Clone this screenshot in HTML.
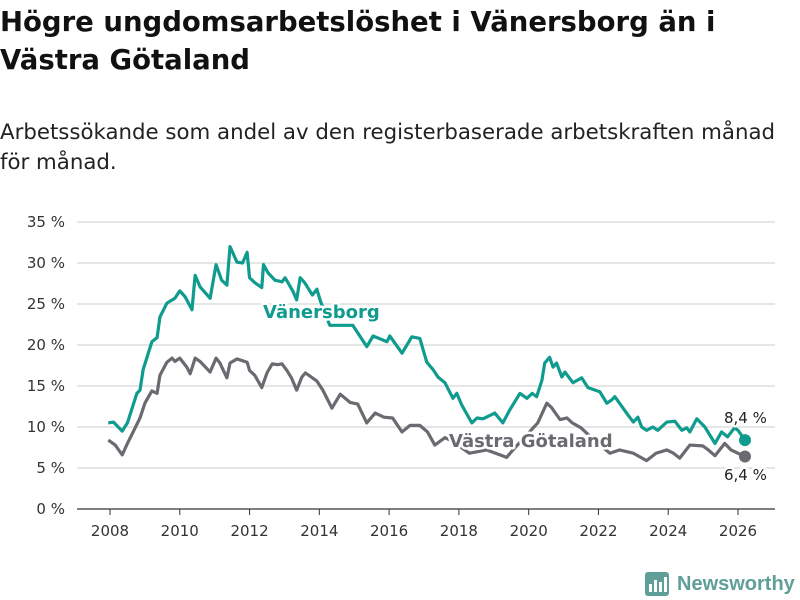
<!DOCTYPE html>
<html><head><meta charset="utf-8"><style>
body{margin:0;background:#fff;font-family:"DejaVu Sans","Liberation Sans",sans-serif;}
#wrap{position:relative;width:800px;height:600px;overflow:hidden;}
h1{position:absolute;left:0;top:3px;margin:0;font-size:27.5px;line-height:38px;font-weight:bold;color:#111;width:800px;white-space:nowrap;}
p.sub{position:absolute;left:0;top:118px;margin:0;font-size:21.3px;line-height:30px;color:#222;width:800px;white-space:nowrap;}
</style></head><body>
<div id="wrap">
<h1>Högre ungdomsarbetslöshet i Vänersborg än i<br>Västra Götaland</h1>
<p class="sub">Arbetssökande som andel av den registerbaserade arbetskraften månad<br>för månad.</p>
<svg id="chart" width="800" height="600" style="position:absolute;left:0;top:0"></svg>
</div>
<script>
const yTicks=[0,5,10,15,20,25,30,35];
const xTicks=[2008,2010,2012,2014,2016,2018,2020,2022,2024,2026];
const vanDates=[2007.95,2008.1,2008.35,2008.5,2008.77,2008.86,2008.95,2009.2,2009.35,2009.43,2009.63,2009.86,2010.0,2010.15,2010.35,2010.44,2010.58,2010.87,2011.04,2011.2,2011.35,2011.44,2011.64,2011.8,2011.93,2012.0,2012.15,2012.35,2012.4,2012.53,2012.73,2012.93,2013.02,2013.25,2013.35,2013.45,2013.58,2013.8,2013.93,2014.02,2014.15,2014.3,2014.96,2015.36,2015.54,2015.94,2016.02,2016.37,2016.65,2016.88,2017.08,2017.26,2017.4,2017.6,2017.83,2017.94,2018.08,2018.37,2018.52,2018.69,2019.03,2019.26,2019.46,2019.75,2019.95,2020.1,2020.23,2020.38,2020.46,2020.6,2020.7,2020.8,2020.95,2021.04,2021.27,2021.52,2021.7,2022.04,2022.24,2022.38,2022.47,2022.84,2023.0,2023.13,2023.24,2023.38,2023.56,2023.7,2023.96,2024.19,2024.39,2024.53,2024.62,2024.82,2025.05,2025.34,2025.53,2025.7,2025.9,2026.0,2026.2];
const vanValues=[10.5,10.6,9.5,10.5,14.1,14.5,17,20.4,20.9,23.4,25.1,25.7,26.6,25.9,24.3,28.5,27.1,25.7,29.8,27.9,27.3,32,30.1,30,31.3,28.2,27.6,27,29.8,28.8,27.9,27.7,28.2,26.5,25.5,28.2,27.6,26.1,26.8,25.5,24,22.4,22.4,19.8,21.1,20.4,21.1,19,21,20.8,17.9,17,16.1,15.4,13.5,14.1,12.7,10.5,11.1,11,11.7,10.5,12.1,14.1,13.5,14.1,13.7,15.7,17.8,18.5,17.3,17.8,16.1,16.7,15.4,16,14.8,14.3,12.9,13.3,13.7,11.5,10.6,11.2,10,9.6,10,9.6,10.6,10.7,9.6,9.9,9.4,11,10,8,9.4,8.8,9.9,9.6,8.4];
const vgDates=[2007.95,2008.15,2008.35,2008.5,2008.86,2009.0,2009.2,2009.35,2009.43,2009.63,2009.78,2009.86,2010.0,2010.2,2010.3,2010.44,2010.58,2010.87,2011.04,2011.15,2011.35,2011.44,2011.64,2011.93,2012.0,2012.15,2012.35,2012.5,2012.65,2012.8,2012.93,2013.07,2013.2,2013.35,2013.5,2013.6,2013.93,2014.1,2014.36,2014.6,2014.88,2015.1,2015.36,2015.6,2015.85,2016.1,2016.37,2016.6,2016.88,2017.1,2017.31,2017.6,2017.8,2018.3,2018.8,2019.37,2019.55,2020.26,2020.52,2020.65,2020.9,2021.1,2021.25,2021.5,2021.9,2022.33,2022.6,2023.0,2023.38,2023.65,2023.96,2024.15,2024.33,2024.62,2024.99,2025.15,2025.34,2025.62,2025.8,2026.0,2026.2];
const vgValues=[8.4,7.8,6.6,8,11.1,12.9,14.4,14.1,16.3,17.9,18.4,18,18.4,17.3,16.5,18.4,18,16.7,18.4,17.8,16,17.8,18.3,17.9,16.9,16.3,14.8,16.6,17.7,17.6,17.7,16.9,16,14.5,16.1,16.6,15.6,14.5,12.3,14,13,12.8,10.5,11.7,11.2,11.1,9.4,10.2,10.2,9.4,7.8,8.7,8.3,6.8,7.2,6.3,7.2,10.5,12.9,12.4,10.9,11.1,10.5,9.9,8.3,6.8,7.2,6.8,5.9,6.8,7.2,6.8,6.2,7.8,7.7,7.2,6.5,8,7.2,6.8,6.4];
const NS="http://www.w3.org/2000/svg";
const svg=document.getElementById('chart');
const X=v=>110+(v-2008)*(628/18);
const Y=v=>509-v*8.2;
function mk(t,a){const e=document.createElementNS(NS,t);for(const k in a)e.setAttribute(k,a[k]);svg.appendChild(e);return e;}
yTicks.forEach(t=>{
  const l=mk('line',{x1:77,x2:775,y1:Y(t),y2:Y(t),stroke:t===0?'#333':'#ddd','stroke-width':t===0?1.2:1.5});
  
  
  const tx=mk('text',{x:65,y:Y(t)+5,'text-anchor':'end','font-size':15,fill:'#333'});
  tx.textContent=t+' %';
  
  
});
xTicks.forEach(t=>{
  const l=mk('line',{x1:X(t),x2:X(t),y1:509,y2:515,stroke:'#333','stroke-width':1});
  
  
  const tx=mk('text',{x:X(t),y:536,'text-anchor':'middle','font-size':15,fill:'#333'});
  tx.textContent=t;
  
  
});
function line(d,v,c,name){
  const p=mk('polyline',{points:d.map((x,i)=>X(x)+','+Y(v[i])).join(' '),fill:'none',stroke:c,'stroke-width':3.2,'stroke-linejoin':'round'});
  
  
  const n=d.length-1;
  const c2=mk('circle',{cx:X(d[n]),cy:Y(v[n]),r:6,fill:c});
  
  
}
line(vgDates,vgValues,'#6b6a70','vastra-gotaland');
line(vanDates,vanValues,'#0f9b8e','vanersborg');
function lab(x,y,t,c,name,size,bold,halo){
  const e=mk('text',{x:x,y:y,'font-size':size,'font-weight':bold?'bold':'normal',fill:c});
  if(halo){e.setAttribute('stroke','#fff');e.setAttribute('stroke-width',5);e.setAttribute('paint-order','stroke');e.setAttribute('stroke-linejoin','round');}
  e.textContent=t;
  
  
}
lab(263,318,'Vänersborg','#0f9b8e','vanersborg-label',18,true,true);
lab(449,447,'Västra Götaland','#6b6a70','vastra-gotaland-label',18,true,true);
lab(724,423,'8,4 %','#222','vanersborg-end-value',15,false,true);
lab(724,480,'6,4 %','#222','vastra-gotaland-end-value',15,false,true);
</script>
<svg width="160" height="30" style="position:absolute;left:644px;top:569px">
<rect x="1" y="3" width="24" height="24" rx="3" fill="#5f9f97"/>
<rect x="5" y="15" width="3" height="8" fill="#fff"/><rect x="10" y="11" width="3" height="12" fill="#fff"/><rect x="15" y="13" width="3" height="10" fill="#fff"/><rect x="20" y="8" width="3" height="15" fill="#fff"/>
<text x="33" y="21" font-size="20" font-weight="bold" fill="#5f9f97" font-family="Liberation Sans, sans-serif">Newsworthy</text>
</svg>
</body></html>
